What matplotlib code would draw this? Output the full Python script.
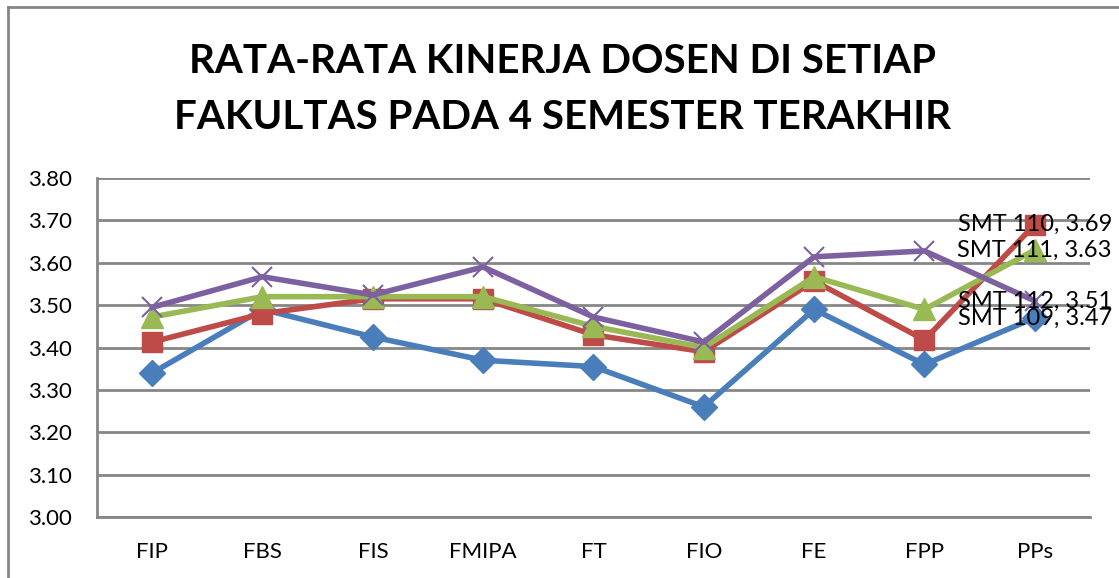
import numpy as np
import matplotlib.pyplot as plt
from matplotlib.lines import Line2D

fakultas = ['FIP', 'FBS', 'FIS', 'FMIPA', 'FT', 'FIO', 'FE', 'FPP', 'PPs']
smt109 = [3.34, 3.49, 3.425, 3.37, 3.355, 3.26, 3.49, 3.36, 3.47]
smt110 = [3.413, 3.48, 3.515, 3.515, 3.43, 3.39, 3.557, 3.418, 3.69]
smt111 = [3.472, 3.52, 3.52, 3.52, 3.45, 3.40, 3.567, 3.49, 3.63]
smt112 = [3.495, 3.567, 3.524, 3.59, 3.472, 3.413, 3.614, 3.628, 3.51]
nama = ['SMT 109', 'SMT 110', 'SMT 111', 'SMT 112']
yticks = [3.00, 3.10, 3.20, 3.30, 3.40, 3.50, 3.60, 3.70, 3.80]

plt.rcParams['font.family'] = ['Lato', 'DejaVu Sans']

fig = plt.figure(figsize=(11.19, 5.78), dpi=100)
ax = fig.add_axes([0.0867, 0.1055, 0.974 - 0.0867, 0.692 - 0.1055])

x = np.arange(len(fakultas))
seri = [
    (smt109, '#4A7EBB', 'D', 13),
    (smt110, '#BE4B48', 's', 15),
    (smt111, '#98B954', '^', 16),
    (smt112, '#7D60A0', 'x', 15),
]
for (vals, warna, mk, ms) in seri:
    if mk == 'x':
        ax.plot(x, vals, color=warna, lw=4, marker=mk, ms=ms, mew=1.5, zorder=3)
    else:
        ax.plot(x, vals, color=warna, lw=4, marker=mk, ms=ms, mec=warna, zorder=3)

# label data di titik terakhir (PPs), saling tumpang seperti aslinya
for vals, nm in zip([smt109, smt110, smt111, smt112], nama):
    ax.text(x[-1], vals[-1], '%s, %.2f' % (nm, vals[-1]), ha='center', va='center',
            fontsize=17, color='black', zorder=4)

ax.set_xlim(-0.5, len(fakultas) - 0.5)
ax.set_ylim(3.0, 3.8)
ax.set_yticks(yticks)
ax.set_yticklabels(['%.2f' % v for v in yticks])
ax.set_xticks(x)
ax.set_xticklabels(fakultas)
ax.tick_params(axis='both', length=0, labelsize=16)
ax.tick_params(axis='y', pad=18)
ax.tick_params(axis='x', pad=18)
ax.grid(axis='y', color='#868686', lw=2)
ax.set_axisbelow(True)
for s in ['top', 'right']:
    ax.spines[s].set_visible(False)
for s in ['left', 'bottom']:
    ax.spines[s].set_color('#868686')
    ax.spines[s].set_linewidth(2)

fig.text(0.503, 0.893, 'RATA-RATA KINERJA DOSEN DI SETIAP', ha='center', va='center',
         fontsize=29, fontweight='bold')
fig.text(0.503, 0.796, 'FAKULTAS PADA 4 SEMESTER TERAKHIR', ha='center', va='center',
         fontsize=29, fontweight='bold')

# bingkai area grafik
fig.add_artist(Line2D([8 / 1119, 8 / 1119], [0, 1 - 7 / 578], transform=fig.transFigure,
                      color='#868686', lw=2))
fig.add_artist(Line2D([8 / 1119, 1], [1 - 7 / 578, 1 - 7 / 578], transform=fig.transFigure,
                      color='#868686', lw=2))

plt.savefig('out.png')
